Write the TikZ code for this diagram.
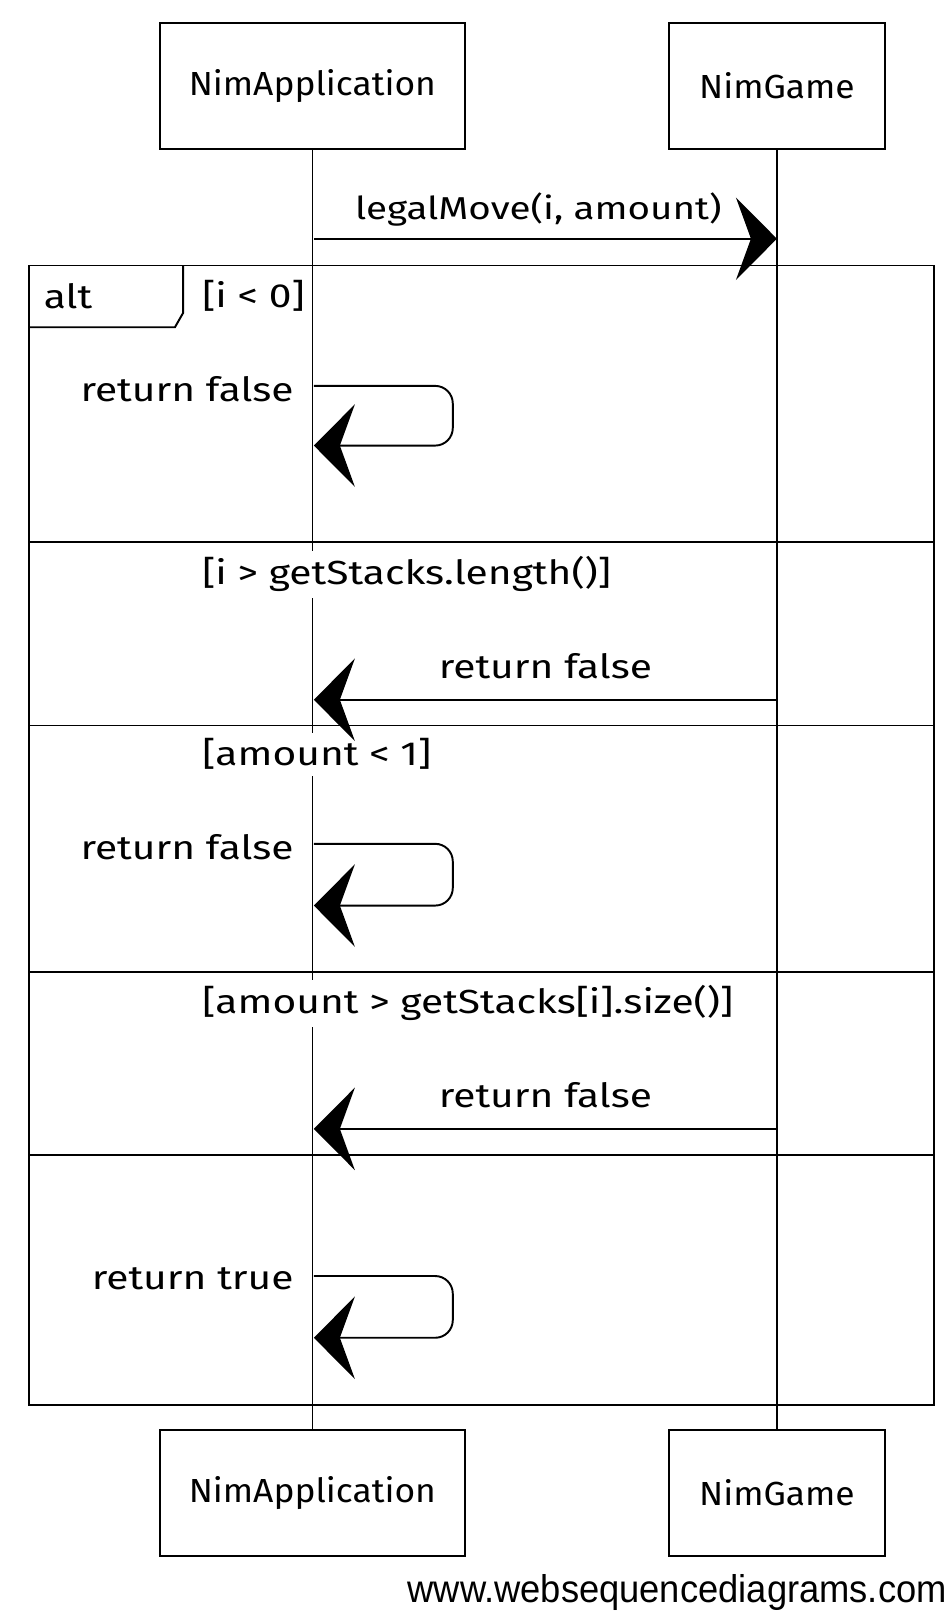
\documentclass[tikz,border=0pt]{standalone}
\usepackage{fontspec}
\newfontfamily\handfont{Fira Sans}[FakeStretch=1.22]
\newfontfamily\titlefont{Fira Sans}[FakeStretch=1.06]
\newfontfamily\footfont{Liberation Sans}[FakeStretch=0.94]
\usetikzlibrary{arrows.meta}

\begin{document}
\begin{tikzpicture}[x=0.02058cm, y=-0.02058cm, line width=1.1pt,
  >={Stealth[length=0.82cm,width=1.65cm,inset=0.3cm]},
  every node/.style={font=\handfont\fontsize{19}{22}\selectfont},
  guard/.style={anchor=west,fill=white}]
\useasboundingbox (0,0) rectangle (925,1566.5);

   \begin{scope}[every node/.style={draw,line width=1.1pt,minimum height=2.53cm,font=\titlefont\fontsize{19}{22}\selectfont}]
    \node[minimum width=6.11cm] (app) at (303.5,83.5) {NimApplication};
    \node[minimum width=4.32cm] (game) at (755,83.5) {NimGame};
    \node[minimum width=6.11cm] (appb) at (303.5,1451) {NimApplication};
    \node[minimum width=4.32cm] (gameb) at (755,1451) {NimGame};
   \end{scope}
\draw[line width=0.7pt] (app) -- (appb);
\draw[line width=0.7pt] (game) -- (gameb);

% alt frame
\node[guard] (g1) at (190,287) {[i < 0]};
\node[guard] (g2) at (190,558) {[i > getStacks.length()]};
\node[guard] (g3) at (190,733) {[amount < 1]};
\node[guard] (g4) at (190,975) {[amount > getStacks[i].size()]};
\draw (28,258) rectangle (908,1365);
\draw (28,318) -- (170,318) -- (178,304) -- (178,258);
\node[anchor=west] (alt) at (36,288) {alt};
\draw (28,527) -- (908,527);
\draw (28,705) -- (908,705);
\draw (28,945) -- (908,945);
\draw (28,1122) -- (908,1122);

% messages
\coordinate (a1) at (305,232);
\coordinate (b1) at (755,232);
\draw[->] (a1) -- node[above=3pt,xshift=-4pt,font=\handfont\fontsize{18}{22}\selectfont] {legalMove(i, amount)} (b1);

\coordinate (a2) at (305,375);
\coordinate (a3) at (305,433);
\node[anchor=east] (r1) at (292,378) {return false};
\draw[->, rounded corners=10pt] (a2) -- (440,375) -- (440,433) -- (a3);

\coordinate (b4) at (755,680);
\coordinate (a4) at (305,680);
\draw[->] (b4) -- node[above=8pt] {return false} (a4);

\coordinate (a5) at (305,820);
\coordinate (a6) at (305,880);
\node[anchor=east] (r3) at (292,823) {return false};
\draw[->, rounded corners=10pt] (a5) -- (440,820) -- (440,880) -- (a6);

\coordinate (b7) at (755,1097);
\coordinate (a7) at (305,1097);
\draw[->] (b7) -- node[above=8pt] {return false} (a7);

\coordinate (a8) at (305,1240);
\coordinate (a9) at (305,1300);
\node[anchor=east] (r5) at (292,1243) {return true};
\draw[->, rounded corners=10pt] (a8) -- (440,1240) -- (440,1300) -- (a9);

\node[anchor=base east,inner sep=0pt,font=\footfont\fontsize{22}{24}\selectfont] (www) at (921,1557) {www.websequencediagrams.com};
\end{tikzpicture}
\end{document}
